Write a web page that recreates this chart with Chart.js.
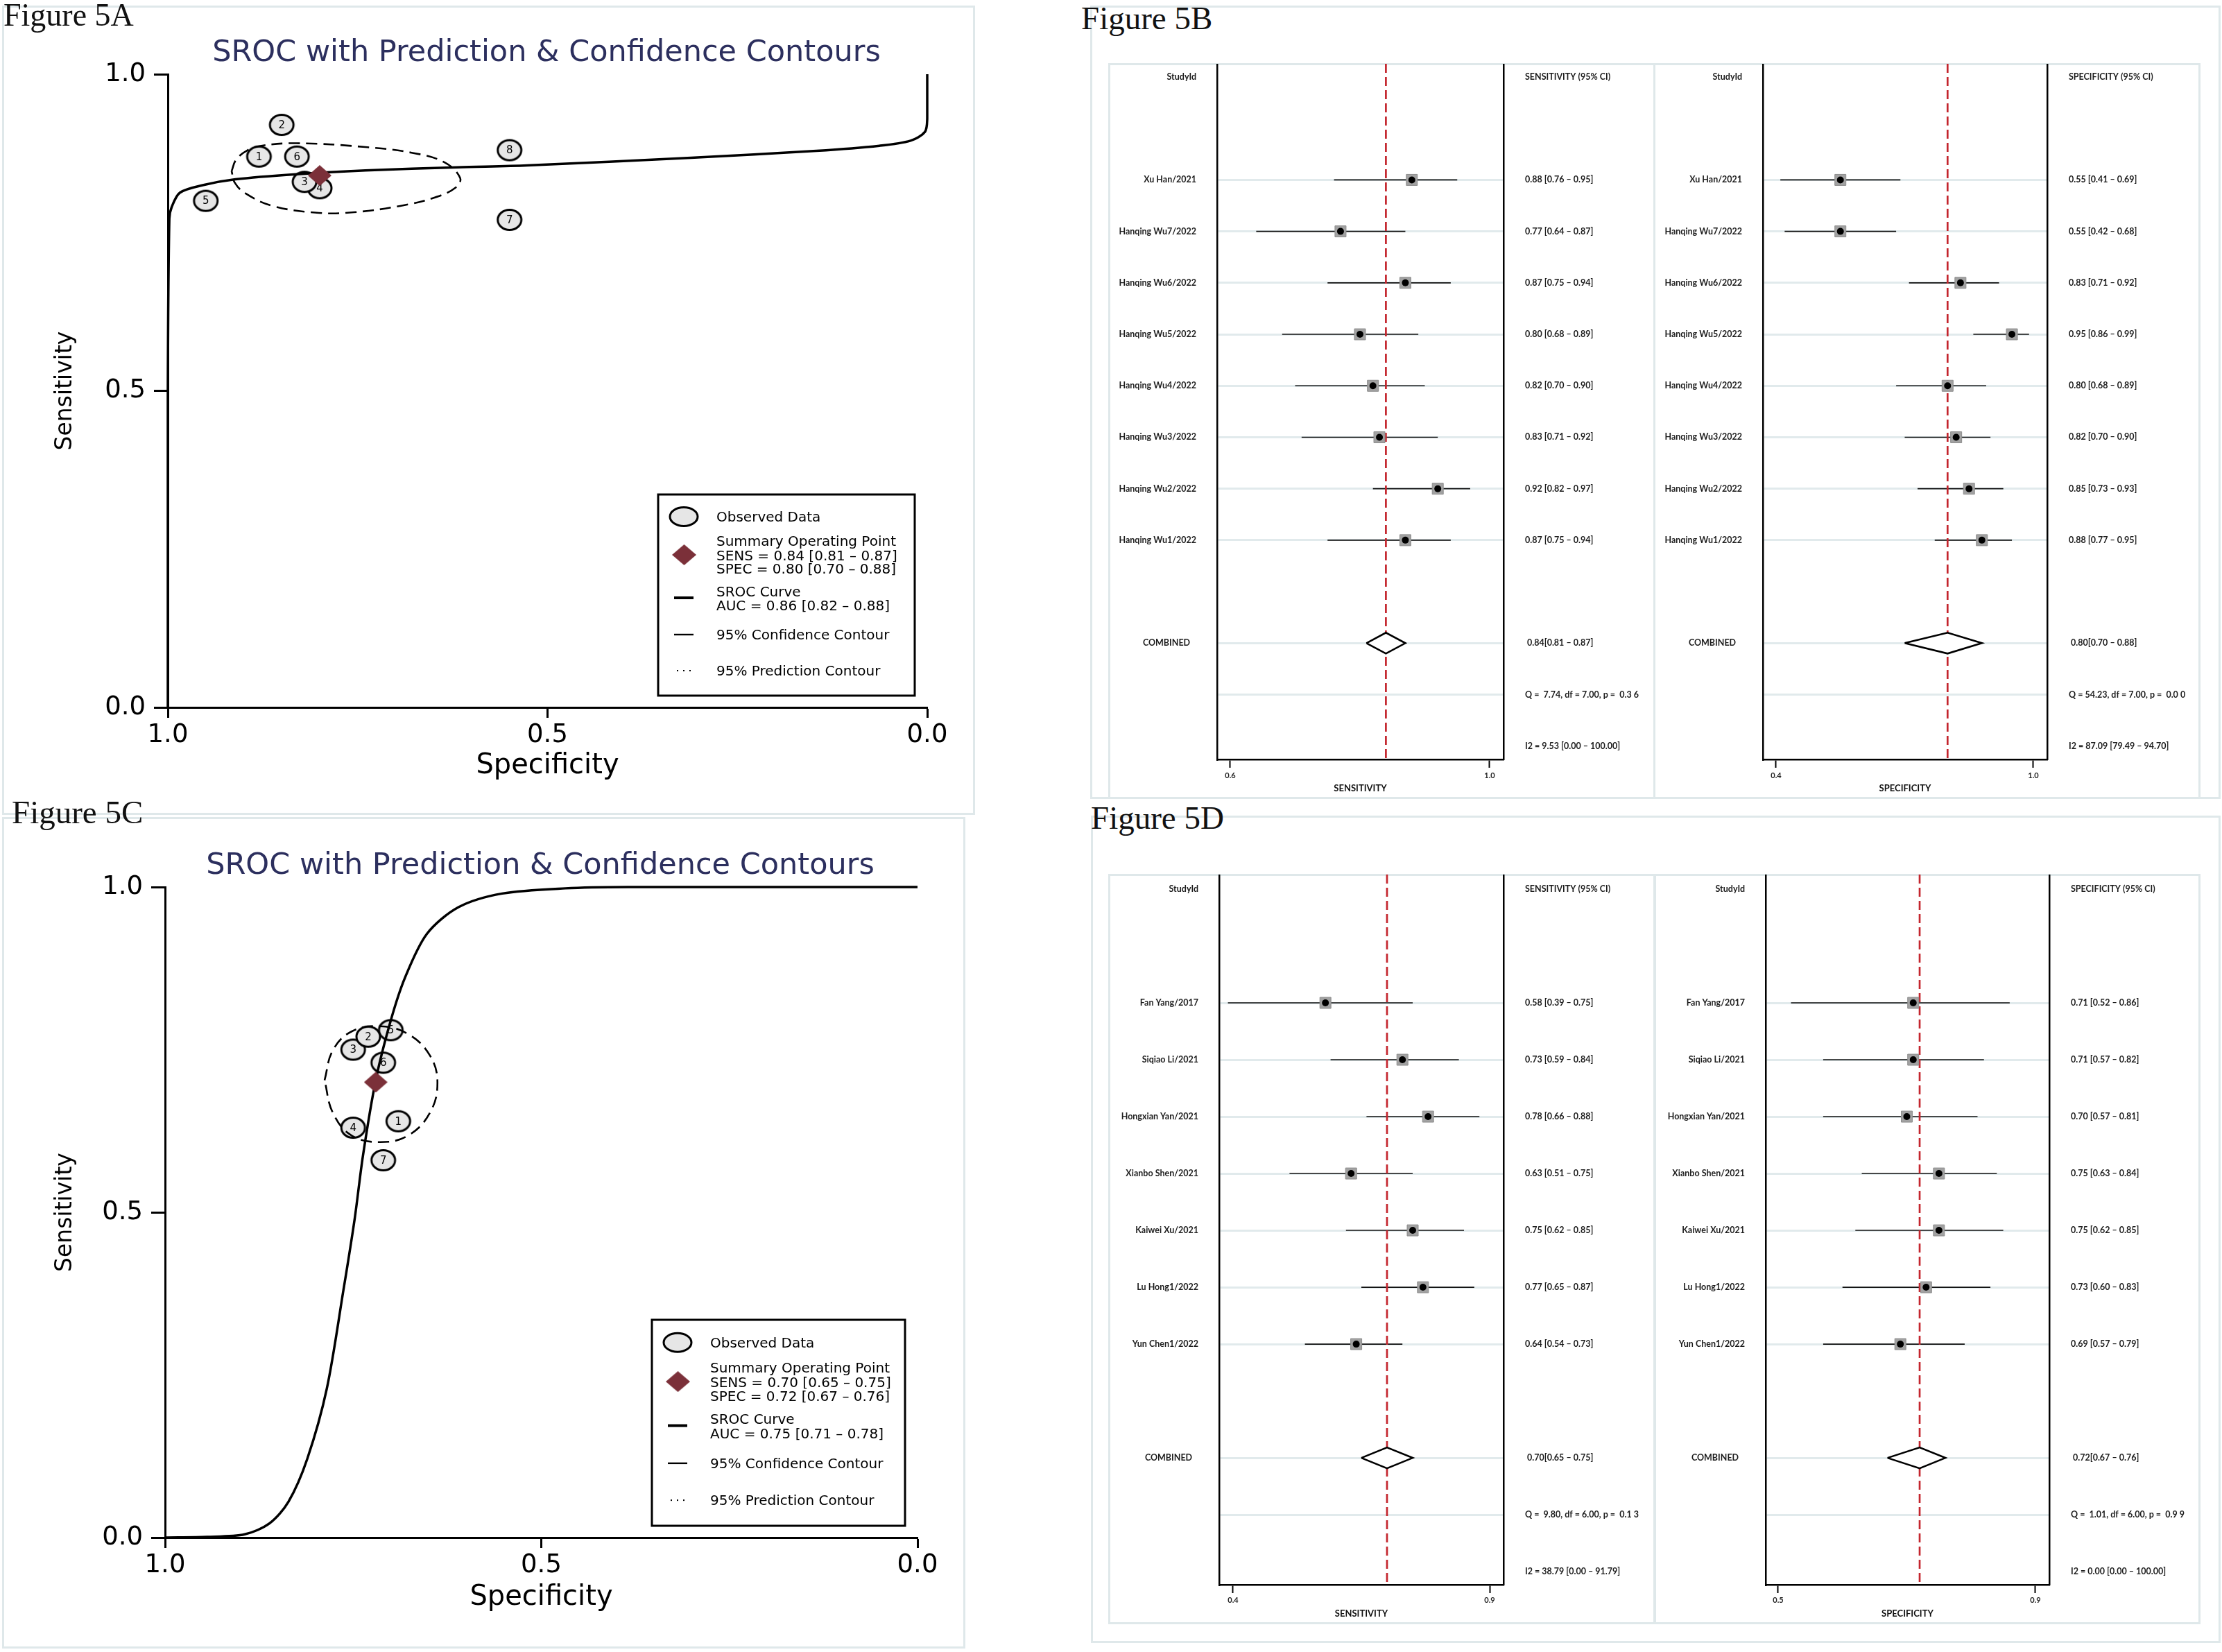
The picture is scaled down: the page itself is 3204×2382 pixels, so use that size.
<!DOCTYPE html>
<html lang="en"><head>
<meta charset="utf-8">
<script src="https://cdn.jsdelivr.net/npm/chart.js@4.4.1/dist/chart.umd.min.js"></script>
<style>
  html, body { margin: 0; padding: 0; background: #fff; }
  #page { position: relative; width: 3204px; height: 2382px; overflow: hidden; background: #fff; }
  .frame { position: absolute; box-sizing: border-box; border: 3px solid #dfe8ea; }
  .fig { position: absolute; font-family: "Liberation Serif", "DejaVu Serif", serif; color: #111; white-space: nowrap; line-height: 1; }
  canvas { position: absolute; }
</style>
</head>
<body>
<div id="page">
  <div class="frame" style="left:3px;top:8px;width:1403px;height:1167px"></div>
  <div class="frame" style="left:3px;top:1178px;width:1389px;height:1199px"></div>
  <div class="frame" style="left:1572px;top:8px;width:1630px;height:1144px"></div>
  <div class="frame" style="left:1598px;top:91px;width:789px;height:1061px"></div>
  <div class="frame" style="left:2384px;top:91px;width:789px;height:1061px"></div>
  <div class="frame" style="left:1573px;top:1176px;width:1629px;height:1193px"></div>
  <div class="frame" style="left:1598px;top:1260px;width:789px;height:1082px"></div>
  <div class="frame" style="left:2385px;top:1260px;width:788px;height:1082px"></div>

  <canvas id="srocA" width="1404" height="1174" style="left:0;top:0"></canvas>
  <canvas id="srocC" width="1390" height="1199" style="left:0;top:1177px"></canvas>
  <canvas id="forestBSens" width="786" height="1058" style="left:1599px;top:92px"></canvas>
  <canvas id="forestBSpec" width="787" height="1058" style="left:2385px;top:92px"></canvas>
  <canvas id="forestDSens" width="787" height="1080" style="left:1599px;top:1261px"></canvas>
  <canvas id="forestDSpec" width="786" height="1080" style="left:2386px;top:1261px"></canvas>

  <div class="fig" style="left:5px;top:-1px;font-size:46px">Figure 5A</div>
  <div class="fig" style="left:1559px;top:3px;font-size:47px">Figure 5B</div>
  <div class="fig" style="left:17px;top:1148px;font-size:47px">Figure 5C</div>
  <div class="fig" style="left:1573px;top:1156px;font-size:47px">Figure 5D</div>
</div>
<script>
// ---------- Figure 5A / 5B : studies (forest order) ----------
const studiesB = ["Xu Han/2021", "Hanqing Wu7/2022", "Hanqing Wu6/2022", "Hanqing Wu5/2022",
                  "Hanqing Wu4/2022", "Hanqing Wu3/2022", "Hanqing Wu2/2022", "Hanqing Wu1/2022"];
const sensB   = [0.88, 0.77, 0.87, 0.80, 0.82, 0.83, 0.92, 0.87];
const sensBLo = [0.76, 0.64, 0.75, 0.68, 0.70, 0.71, 0.82, 0.75];
const sensBHi = [0.95, 0.87, 0.94, 0.89, 0.90, 0.92, 0.97, 0.94];
const specB   = [0.55, 0.55, 0.83, 0.95, 0.80, 0.82, 0.85, 0.88];
const specBLo = [0.41, 0.42, 0.71, 0.86, 0.68, 0.70, 0.73, 0.77];
const specBHi = [0.69, 0.68, 0.92, 0.99, 0.89, 0.90, 0.93, 0.95];
const sensBPooled = [0.84, 0.81, 0.87];
const specBPooled = [0.80, 0.70, 0.88];
const aucA = [0.86, 0.82, 0.88];
const sensBStats = ["Q =  7.74, df = 7.00, p =  0.3 6", "I2 = 9.53 [0.00 \u2013 100.00]"];
const specBStats = ["Q = 54.23, df = 7.00, p =  0.0 0", "I2 = 87.09 [79.49 \u2013 94.70]"];

// SROC curve and 95% confidence contour of 5A
const srocASpec = [1.0, 1.0, 0.998, 0.995, 0.984, 0.953, 0.911, 0.831, 0.740, 0.618, 0.527, 0.311, 0.146, 0.063, 0.022, 0.003, 0.0, 0.0];
const srocASens = [0.0, 0.5, 0.772, 0.790, 0.813, 0.825, 0.834, 0.842, 0.848, 0.853, 0.856, 0.868, 0.879, 0.887, 0.895, 0.909, 0.930, 1.0];
const confASpec = [0.916, 0.910, 0.895, 0.877, 0.831, 0.740, 0.679, 0.636, 0.615, 0.621, 0.649, 0.694, 0.755, 0.801, 0.862, 0.898, 0.912, 0.916];
const confASens = [0.847, 0.865, 0.880, 0.887, 0.891, 0.885, 0.876, 0.861, 0.836, 0.821, 0.805, 0.792, 0.782, 0.781, 0.792, 0.812, 0.829, 0.847];

// ---------- Figure 5C / 5D ----------
const studiesD = ["Fan Yang/2017", "Siqiao Li/2021", "Hongxian Yan/2021", "Xianbo Shen/2021",
                  "Kaiwei Xu/2021", "Lu Hong1/2022", "Yun Chen1/2022"];
const sensD   = [0.58, 0.73, 0.78, 0.63, 0.75, 0.77, 0.64];
const sensDLo = [0.39, 0.59, 0.66, 0.51, 0.62, 0.65, 0.54];
const sensDHi = [0.75, 0.84, 0.88, 0.75, 0.85, 0.87, 0.73];
const specD   = [0.71, 0.71, 0.70, 0.75, 0.75, 0.73, 0.69];
const specDLo = [0.52, 0.57, 0.57, 0.63, 0.62, 0.60, 0.57];
const specDHi = [0.86, 0.82, 0.81, 0.84, 0.85, 0.83, 0.79];
const sensDPooled = [0.70, 0.65, 0.75];
const specDPooled = [0.72, 0.67, 0.76];
const aucC = [0.75, 0.71, 0.78];
const sensDStats = ["Q =  9.80, df = 6.00, p =  0.1 3", "I2 = 38.79 [0.00 \u2013 91.79]"];
const specDStats = ["Q =  1.01, df = 6.00, p =  0.9 9", "I2 = 0.00 [0.00 \u2013 100.00]"];

const srocCSpec = [1.0, 0.944, 0.894, 0.861, 0.836, 0.811, 0.785, 0.763, 0.748, 0.737, 0.720, 0.700, 0.681, 0.652, 0.610, 0.552, 0.468, 0.385, 0.0];
const srocCSens = [0.0, 0.001, 0.005, 0.022, 0.055, 0.121, 0.229, 0.380, 0.490, 0.587, 0.703, 0.795, 0.861, 0.928, 0.969, 0.990, 0.998, 1.0, 1.0];
const confCSpec = [0.788, 0.777, 0.752, 0.714, 0.677, 0.648, 0.638, 0.648, 0.677, 0.714, 0.752, 0.777, 0.788];
const confCSens = [0.703, 0.749, 0.778, 0.786, 0.774, 0.741, 0.699, 0.653, 0.618, 0.608, 0.618, 0.653, 0.703];

// ---------- helpers ----------
const SANS = '"DejaVu Sans", "Open Sans", sans-serif';
const SMALL = 'Lato, "Open Sans", sans-serif';
const ci = (v, lo, hi) => v.toFixed(2) + ' [' + lo.toFixed(2) + ' \u2013 ' + hi.toFixed(2) + ']';

function marker(w, h, paint) {
  const c = document.createElement('canvas');
  c.width = w; c.height = h;
  paint(c.getContext('2d'), w, h);
  return c;
}
const circleImg = marker(40, 34, (g, w, h) => {
  g.beginPath(); g.ellipse(w / 2, h / 2, 17, 14.5, 0, 0, Math.PI * 2);
  g.fillStyle = '#e6e6e6'; g.fill(); g.lineWidth = 3; g.strokeStyle = '#000'; g.stroke();
});
const diamondImg = marker(34, 30, (g, w, h) => {
  g.beginPath(); g.moveTo(w / 2, 0); g.lineTo(w, h / 2); g.lineTo(w / 2, h); g.lineTo(0, h / 2); g.closePath();
  g.fillStyle = '#7b3039'; g.fill();
});

// numbers in the circles, title and legend of the SROC plots
const srocExtras = {
  id: 'srocExtras',
  afterDatasetDraw(chart, args, o) {
    if (args.index !== 3) return;
    const ctx = chart.ctx;
    ctx.save();
    ctx.font = '15px ' + SANS; ctx.fillStyle = '#000';
    ctx.textAlign = 'center'; ctx.textBaseline = 'middle';
    args.meta.data.forEach((pt, i) => ctx.fillText(o.numbers[i], pt.x, pt.y + 1));
    ctx.restore();
  },
  afterDraw(chart, args, o) {
    const ctx = chart.ctx;
    ctx.save();
    ctx.font = '43px ' + SANS; ctx.fillStyle = '#2c2f5e';
    ctx.textAlign = 'center'; ctx.textBaseline = 'alphabetic';
    ctx.fillText(o.title, o.titleX, o.titleY);

    const b = o.box, k = b.h / 290;
    ctx.lineWidth = 3; ctx.strokeStyle = '#000';
    ctx.strokeRect(b.x, b.y, b.w, b.h);
    const ix = b.x + 37, tx = b.x + 84;
    ctx.beginPath(); ctx.ellipse(ix, b.y + 32 * k, 20, 13.5, 0, 0, Math.PI * 2);
    ctx.fillStyle = '#e6e6e6'; ctx.fill(); ctx.stroke();
    ctx.drawImage(diamondImg, ix - 17, b.y + 87 * k - 15, 35, 30);
    ctx.fillStyle = '#000';
    ctx.fillRect(ix - 14, b.y + 149 * k - 2, 28, 4);
    ctx.fillRect(ix - 14, b.y + 202 * k - 1.2, 28, 2.4);
    [-9, 0, 9].forEach(d => ctx.fillRect(ix + d - 1, b.y + 254 * k - 1, 2, 2));

    ctx.font = '20px ' + SANS; ctx.textAlign = 'left';
    const lines = [[o.legend[0], 39], [o.legend[1], 74], [o.legend[2], 94.5], [o.legend[3], 114],
                   [o.legend[4], 146.5], [o.legend[5], 166.5], [o.legend[6], 209], [o.legend[7], 261]];
    lines.forEach(([t, dy]) => ctx.fillText(t, tx, b.y + dy * k));
    ctx.restore();
  }
};

function srocChart(id, d, lay) {
  const n = d.sens.length;
  const obs = d.sens.map((s, i) => ({ x: d.spec[i], y: s }));
  const numbers = d.sens.map((_, i) => String(n - i));
  const curve = d.curveSpec.map((x, i) => ({ x, y: d.curveSens[i] }));
  const conf = d.confSpec.map((x, i) => ({ x, y: d.confSens[i] }));
  const axisFont = { family: SANS, size: 37 };
  new Chart(document.getElementById(id), {
    type: 'scatter',
    data: {
      datasets: [
        { label: 'Summary Operating Point', data: [{ x: d.pooledSpec[0], y: d.pooledSens[0] }],
          pointStyle: diamondImg, pointRadius: 15, order: 0 },
        { label: '95% Confidence Contour', data: conf, showLine: true, borderColor: '#000', borderWidth: 2.6,
          borderDash: [16, 9], pointRadius: 0, tension: 0.4, order: 1 },
        { label: 'SROC Curve', data: curve, showLine: true, borderColor: '#000', borderWidth: 3.5,
          pointRadius: 0, tension: 0.3, clip: 8, order: 2 },
        { label: 'Observed Data', data: obs, pointStyle: circleImg, pointRadius: 15, order: 3 }
      ]
    },
    options: {
      responsive: false, animation: false, devicePixelRatio: 1,
      layout: { autoPadding: false, padding: { left: 0, top: lay.top, right: lay.right, bottom: 0 } },
      plugins: {
        legend: { display: false }, tooltip: { enabled: false },
        srocExtras: {
          numbers, title: 'SROC with Prediction & Confidence Contours',
          titleX: lay.titleX, titleY: lay.titleY, box: lay.box,
          legend: ['Observed Data', 'Summary Operating Point',
                   'SENS = ' + ci(d.pooledSens[0], d.pooledSens[1], d.pooledSens[2]),
                   'SPEC = ' + ci(d.pooledSpec[0], d.pooledSpec[1], d.pooledSpec[2]),
                   'SROC Curve', 'AUC = ' + ci(d.auc[0], d.auc[1], d.auc[2]),
                   '95% Confidence Contour', '95% Prediction Contour']
        }
      },
      scales: {
        x: {
          type: 'linear', reverse: true, min: 0, max: 1,
          ticks: { stepSize: 0.5, callback: v => v.toFixed(1), font: axisFont, color: '#000', padding: 3, maxRotation: 0 },
          grid: { drawOnChartArea: false, drawTicks: true, tickLength: 15, tickWidth: 3, tickColor: '#000' },
          border: { display: true, color: '#000', width: 3 },
          title: { display: true, text: 'Specificity', color: '#000', font: { family: SANS, size: 40 },
                   padding: { top: 0, bottom: lay.xTitlePad } },
          afterFit: s => { s.height = lay.xAxisH; }
        },
        y: {
          type: 'linear', min: 0, max: 1,
          ticks: { stepSize: 0.5, callback: v => v.toFixed(1), font: axisFont, color: '#000', padding: 12 },
          grid: { drawOnChartArea: false, drawTicks: true, tickLength: 20, tickWidth: 3, tickColor: '#000' },
          border: { display: true, color: '#000', width: 3 },
          title: { display: true, text: 'Sensitivity', color: '#000', font: { family: SANS, size: 33 },
                   padding: { top: 75, bottom: 0 } },
          afterFit: s => { s.width = lay.yAxisW; }
        }
      }
    },
    plugins: [srocExtras]
  });
}

// study names, estimates and pooled row of the forest plots
const forestText = {
  id: 'forestText',
  afterDraw(chart, args, o) {
    const { ctx, chartArea: ca } = chart;
    const y = chart.scales.y;
    const n = o.labels.length;
    const lx = ca.left - 30, vx = ca.right + 31;
    ctx.save();
    ctx.font = 'bold 12.5px ' + SMALL; ctx.fillStyle = '#1c1c1c'; ctx.textBaseline = 'middle';
    ctx.textAlign = 'right'; ctx.fillText('StudyId', lx, y.getPixelForValue(0));
    ctx.textAlign = 'left'; ctx.fillText(o.header, vx, y.getPixelForValue(0));
    o.labels.forEach((t, i) => {
      const py = y.getPixelForValue(i + 2);
      ctx.textAlign = 'right'; ctx.fillText(t, lx, py);
      ctx.textAlign = 'left'; ctx.fillText(o.values[i], vx, py);
    });
    ctx.textAlign = 'center'; ctx.fillText('COMBINED', ca.left - 73, y.getPixelForValue(n + 3));
    ctx.textAlign = 'left';
    ctx.fillText(o.pooled, vx + 3, y.getPixelForValue(n + 3));
    ctx.fillText(o.stats[0], vx, y.getPixelForValue(n + 4));
    ctx.fillText(o.stats[1], vx, y.getPixelForValue(n + 5));
    ctx.restore();
  }
};

function forestChart(id, f, lay) {
  const n = f.est.length;
  const rows = f.est.map((_, i) => i + 2);
  const pooledRow = n + 3;
  const gridRows = rows.concat([pooledRow, n + 4]);
  const plotH = document.getElementById(id).height - lay.bottomH;
  const h = 15 / (plotH / (lay.yMax - lay.yMin));   // half height of the pooled diamond in row units
  const p = f.pooled;
  const datasets = [
    { data: [{ x: p[1], y: pooledRow }, { x: p[0], y: pooledRow - h }, { x: p[2], y: pooledRow },
             { x: p[0], y: pooledRow + h }, { x: p[1], y: pooledRow }],
      showLine: true, borderColor: '#000', borderWidth: 2.6, pointRadius: 0, tension: 0,
      fill: 'shape', backgroundColor: '#fff', order: 0 },
    { data: rows.map((r, i) => ({ x: f.est[i], y: r })), pointStyle: 'circle', pointRadius: 5,
      backgroundColor: '#000', borderWidth: 0, order: 1 },
    { data: rows.map((r, i) => ({ x: f.est[i], y: r })), pointStyle: 'rect', pointRadius: 11.3,
      backgroundColor: '#a2a2a2', borderColor: '#8c8c8c', borderWidth: 1, order: 2 },
    { data: [{ x: p[0], y: lay.yMin }, { x: p[0], y: lay.yMax }], showLine: true,
      borderColor: '#c4262e', borderWidth: 2.7, borderDash: [13, 6], pointRadius: 0, order: 3 }
  ];
  rows.forEach((r, i) => datasets.push({
    data: [{ x: f.lo[i], y: r }, { x: f.hi[i], y: r }], showLine: true,
    borderColor: '#111', borderWidth: 1.6, pointRadius: 0, order: 4
  }));
  new Chart(document.getElementById(id), {
    type: 'scatter',
    data: { datasets },
    options: {
      responsive: false, animation: false, devicePixelRatio: 1,
      layout: { autoPadding: false, padding: 0 },
      plugins: {
        legend: { display: false }, tooltip: { enabled: false },
        forestText: {
          labels: f.labels, header: f.header,
          values: f.est.map((v, i) => ci(v, f.lo[i], f.hi[i])),
          pooled: p[0].toFixed(2) + '[' + p[1].toFixed(2) + ' \u2013 ' + p[2].toFixed(2) + ']',
          stats: f.stats
        }
      },
      scales: {
        x: {
          type: 'linear', min: lay.xMin, max: lay.xMax,
          afterBuildTicks: s => { s.ticks = f.ticks.map(v => ({ value: v })); },
          ticks: { callback: v => v.toFixed(1), font: { family: SMALL, size: 11, weight: 'bold' }, color: '#222',
                   padding: lay.tickPad, maxRotation: 0, autoSkip: false },
          grid: { drawOnChartArea: false, drawTicks: true, tickLength: 12, tickWidth: 2, tickColor: '#000' },
          border: { display: true, color: '#000', width: 2.5 },
          title: { display: true, text: f.axisTitle, color: '#111', font: { family: SMALL, size: 13, weight: 'bold' },
                   padding: { top: 0, bottom: lay.titlePad } },
          afterFit: s => { s.height = lay.bottomH; }
        },
        y: {
          type: 'linear', reverse: true, min: lay.yMin, max: lay.yMax,
          afterBuildTicks: s => { s.ticks = gridRows.map(v => ({ value: v })); },
          ticks: { display: false },
          grid: { color: '#e1eaec', lineWidth: 3, drawTicks: false },
          border: { display: true, color: '#000', width: 2.5 },
          afterFit: s => { s.width = lay.leftW; }
        },
        y2: {
          type: 'linear', position: 'right', reverse: true, min: lay.yMin, max: lay.yMax,
          ticks: { display: false }, grid: { display: false },
          border: { display: true, color: '#000', width: 2.5 },
          afterFit: s => { s.width = lay.rightW; }
        }
      }
    },
    plugins: [forestText]
  });
}

// ---------- build ----------
srocChart('srocA',
  { sens: sensB, spec: specB, pooledSens: sensBPooled, pooledSpec: specBPooled, auc: aucA,
    curveSpec: srocASpec, curveSens: srocASens, confSpec: confASpec, confSens: confASens },
  { top: 107, right: 67, yAxisW: 242, xAxisH: 154, xTitlePad: 45,
    titleX: 788, titleY: 88, box: { x: 949, y: 713, w: 370, h: 290 } });

srocChart('srocC',
  { sens: sensD, spec: specD, pooledSens: sensDPooled, pooledSpec: specDPooled, auc: aucC,
    curveSpec: srocCSpec, curveSens: srocCSens, confSpec: confCSpec, confSens: confCSens },
  { top: 102, right: 67, yAxisW: 238, xAxisH: 159, xTitlePad: 48,
    titleX: 779, titleY: 83, box: { x: 940, y: 726, w: 365, h: 297 } });

forestChart('forestBSens',
  { labels: studiesB, est: sensB, lo: sensBLo, hi: sensBHi, pooled: sensBPooled, stats: sensBStats,
    header: 'SENSITIVITY (95% CI)', axisTitle: 'SENSITIVITY', ticks: [0.6, 1.0] },
  { xMin: 0.5797, xMax: 1.0214, yMin: -0.256, yMax: 13.26, leftW: 156, rightW: 217, bottomH: 55, tickPad: 5, titlePad: 5 });

forestChart('forestBSpec',
  { labels: studiesB, est: specB, lo: specBLo, hi: specBHi, pooled: specBPooled, stats: specBStats,
    header: 'SPECIFICITY (95% CI)', axisTitle: 'SPECIFICITY', ticks: [0.4, 1.0] },
  { xMin: 0.3693, xMax: 1.0324, yMin: -0.256, yMax: 13.26, leftW: 157, rightW: 220, bottomH: 55, tickPad: 5, titlePad: 5 });

forestChart('forestDSens',
  { labels: studiesD, est: sensD, lo: sensDLo, hi: sensDHi, pooled: sensDPooled, stats: sensDStats,
    header: 'SENSITIVITY (95% CI)', axisTitle: 'SENSITIVITY', ticks: [0.4, 0.9] },
  { xMin: 0.373, xMax: 0.927, yMin: -0.256, yMax: 12.23, leftW: 159, rightW: 218, bottomH: 56, tickPad: 4, titlePad: 6 });

forestChart('forestDSpec',
  { labels: studiesD, est: specD, lo: specDLo, hi: specDHi, pooled: specDPooled, stats: specDStats,
    header: 'SPECIFICITY (95% CI)', axisTitle: 'SPECIFICITY', ticks: [0.5, 0.9] },
  { xMin: 0.4806, xMax: 0.9216, yMin: -0.256, yMax: 12.23, leftW: 160, rightW: 217, bottomH: 56, tickPad: 4, titlePad: 6 });
</script>
</body></html>
